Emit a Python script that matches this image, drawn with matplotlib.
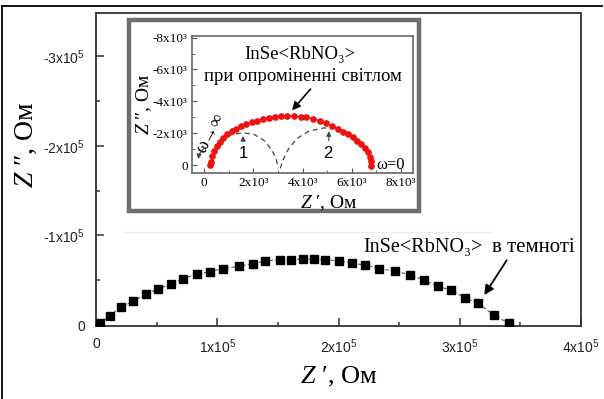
import matplotlib
matplotlib.use("Agg")
import matplotlib.pyplot as plt
from matplotlib.patches import Rectangle
from matplotlib.lines import Line2D

plt.rcParams['mathtext.fontset'] = 'custom'
plt.rcParams['mathtext.it'] = 'Liberation Serif:italic'
plt.rcParams['mathtext.rm'] = 'Liberation Serif'
plt.rcParams['mathtext.default'] = 'regular'

SANS = ['Liberation Sans', 'DejaVu Sans']
SERIF = ['Liberation Serif', 'DejaVu Serif']

# dark: Z', Z'' in Ohm
zr_dark = [3400, 11400, 20600, 30900, 41100, 50900, 61700, 71400, 83400, 93700,
           104600, 117700, 129100, 139400, 152000, 161100, 170900, 180000, 189100, 200000,
           210900, 221700, 233100, 246300, 258900, 270300, 281700, 293100, 304600, 314900,
           328000, 340600]
zi_dark = [-2000, -10600, -19800, -26600, -34200, -40300, -45600, -51700, -57000, -59700,
           -62700, -65700, -68400, -71500, -73000, -73000, -73400, -73400, -72700, -71900,
           -69200, -66900, -63100, -60100, -56300, -50200, -43300, -38800, -30400, -24300,
           -11400, -1900]

# light (inset): Z', Z'' in Ohm
zr_light = [220, 270, 330, 410, 520, 630, 760, 930, 1120, 1310,
            1500, 1710, 1930, 2150, 2390, 2640, 2880, 3130, 3370, 3650,
            3920, 4160, 4440, 4710, 4950, 5200, 5440, 5660, 5850, 6040,
            6230, 6390, 6560, 6670, 6750, 6800, 6800]
zi_light = [0, -210, -560, -900, -1190, -1460, -1710, -1920, -2130, -2270,
            -2440, -2580, -2690, -2790, -2900, -2980, -3040, -3080, -3100, -3060,
            -3040, -3000, -2920, -2770, -2630, -2440, -2270, -2100, -1920, -1730,
            -1520, -1310, -1060, -790, -520, -250, 40]

# partial arcs 1 and 2 (dashed)
arc1_x = [220, 380, 650, 1060, 1540, 2010, 2420, 2760, 2940, 3010]
arc1_y = [0, -830, -1460, -1880, -2020, -1940, -1560, -940, -310, 210]
arc2_x = [3100, 3200, 3440, 3780, 4260, 4870, 5410, 5960, 6370, 6670, 6800]
arc2_y = [210, -310, -1040, -1670, -2130, -2330, -2290, -1980, -1460, -730, 0]

main_xticks = [0, 1e5, 2e5, 3e5, 4e5]
main_xlabels = ['0', '1x10$^5$', '2x10$^5$', '3x10$^5$', '4x10$^5$']
main_yticks = [0, -1e5, -2e5, -3e5]
main_ylabels = ['0', '-1x10$^5$', '-2x10$^5$', '-3x10$^5$']
ins_xticks = [0, 2000, 4000, 6000, 8000]
ins_xlabels = ['0', '2x10³', '4x10³', '6x10³', '8x10³']
ins_yticks = [0, -2000, -4000, -6000, -8000]
ins_ylabels = ['0', '-2x10³', '-4x10³', '-6x10³', '-8x10³']

W, H = 604, 399
fig = plt.figure(figsize=(W / 100, H / 100), dpi=100)

def fx(px):
    return px / W

def fy(py):
    return 1 - py / H

# outer frame (top and left)
fig.add_artist(Line2D([fx(2), fx(602)], [fy(6), fy(6)], color='black', lw=1.3))
fig.add_artist(Line2D([fx(2), fx(2)], [fy(6), 0], color='black', lw=1.3))

ax = fig.add_axes([fx(96), fy(326), (581 - 96) / W, (326 - 13) / H])
ax.plot(zr_dark, zi_dark, ls=(0, (3, 2)), color='#555555', lw=0.8, zorder=2)
ax.plot(zr_dark, zi_dark, ls='none', marker='s', ms=5.2, color='black', zorder=3)
ax.set_xlim(0, 4e5)
ax.set_ylim(1000, -3.48e5)
ax.set_xticks(main_xticks)
ax.set_xticklabels(main_xlabels, family=SANS, fontsize=10, color='#222222')
ax.set_yticks(main_yticks)
ax.set_yticklabels(main_ylabels, family=SANS, fontsize=10, color='#222222')
ax.set_xticks([0.5e5, 1.5e5, 2.5e5, 3.5e5], minor=True)
ax.set_yticks([-0.5e5, -1.5e5, -2.5e5], minor=True)
ax.tick_params(which='both', direction='in', top=False, right=False, color='#333333', width=1.1)
ax.tick_params(which='major', length=6, pad=8)
ax.tick_params(which='minor', length=3)
for s in ax.spines.values():
    s.set_color('#333333')
    s.set_linewidth(1.3)
ax.set_xlabel('$\\mathit{Z}$ ′, Ом', family=SERIF, fontsize=19)
ax.xaxis.set_label_coords(0.5, -0.125)
ax.set_ylabel('$\\mathit{Z}$ ″, Ом', family=SERIF, fontsize=20)
ax.yaxis.set_label_coords(-0.118, 0.58)

ax.text(3.19e5, -0.76e5, 'InSe<RbNO₃>', family=SERIF, fontsize=14.5, ha='right', va='bottom')
ax.text(3.27e5, -0.76e5, 'в темноті', family=SERIF, fontsize=15, ha='left', va='bottom')
ax.annotate('', xy=(3.19e5, -0.31e5), xytext=(3.40e5, -0.75e5),
            arrowprops=dict(arrowstyle='-|>', color='black', lw=1.3, mutation_scale=14))

# faint line under the inset
fig.add_artist(Line2D([fx(123), fx(490)], [fy(232), fy(232)], color='#ececec', lw=1))

# inset frame
fig.add_artist(Rectangle((fx(129), fy(211)), fx(419) - fx(129), fy(20) - fy(211),
                         transform=fig.transFigure, facecolor='white',
                         edgecolor='#6f6f6f', lw=3.2, zorder=1))

ins = fig.add_axes([fx(192), fy(173), (413 - 192) / W, (173 - 36) / H], zorder=2)
ins.plot(arc1_x, arc1_y, ls=(0, (4, 3)), color='#444444', lw=0.9)
ins.plot(arc2_x, arc2_y, ls=(0, (4, 3)), color='#444444', lw=0.9)
ins.plot(zr_light, zi_light, color='black', lw=0.7)
ins.plot(zr_light, zi_light, ls='none', marker='o', ms=3.8, color='#ee1111', mec='#ee1111')
ins.set_xlim(-500, 8500)
ins.set_ylim(500, -8100)
ins.set_xticks(ins_xticks)
ins.set_xticklabels(ins_xlabels, family=SERIF, fontsize=9.5)
ins.set_yticks(ins_yticks)
ins.set_yticklabels(ins_ylabels, family=SERIF, fontsize=9.5)
ins.set_xticks([1000, 3000, 5000, 7000], minor=True)
ins.set_yticks([-1000, -3000, -5000, -7000], minor=True)
ins.tick_params(which='both', direction='in', top=False, right=False, color='#555555')
ins.tick_params(which='major', length=3.5, pad=3)
ins.tick_params(which='minor', length=2)
for s in ins.spines.values():
    s.set_color('#666666')
    s.set_linewidth(1.2)
ins.set_xlabel('$\\mathit{Z}$ ′, Ом', family=SERIF, fontsize=14)
ins.xaxis.set_label_coords(0.62, -0.15)
ins.set_ylabel('$\\mathit{Z}$ ″, Ом', family=SERIF, fontsize=14)
ins.yaxis.set_label_coords(-0.17, 0.5)

ins.text(3900, -6950, 'InSe<RbNO₃>', family=SERIF, fontsize=13.5, ha='center', va='center')
ins.text(4000, -5550, 'при опроміненні світлом', family=SERIF, fontsize=13.5, ha='center', va='center')
ins.annotate('', xy=(3500, -3300), xytext=(4400, -4900),
             arrowprops=dict(arrowstyle='-|>', color='black', lw=1.2, mutation_scale=12))
ins.text(1580, -700, '1', family=SANS, fontsize=12, ha='center', va='center')
ins.annotate('', xy=(1580, -2000), xytext=(1580, -1300),
             arrowprops=dict(arrowstyle='-|>', color='#444444', lw=0.8, mutation_scale=7))
ins.text(5050, -700, '2', family=SANS, fontsize=12, ha='center', va='center')
ins.annotate('', xy=(5070, -2300), xytext=(5070, -1350),
             arrowprops=dict(arrowstyle='-|>', color='#444444', lw=0.8, mutation_scale=7))
ins.text(7000, 0, 'ω=0', family=SERIF, fontsize=12, ha='left', va='center')
ins.text(250, -2000, 'ω→∞', family=SERIF, fontsize=13, ha='center', va='center', rotation=62)
ins.annotate('', xy=(-250, -200), xytext=(150, -1200),
             arrowprops=dict(arrowstyle='-|>', color='#444444', lw=0.8, mutation_scale=7,
                             connectionstyle='arc3,rad=0.3'))

fig.savefig('out.png', dpi=100)
